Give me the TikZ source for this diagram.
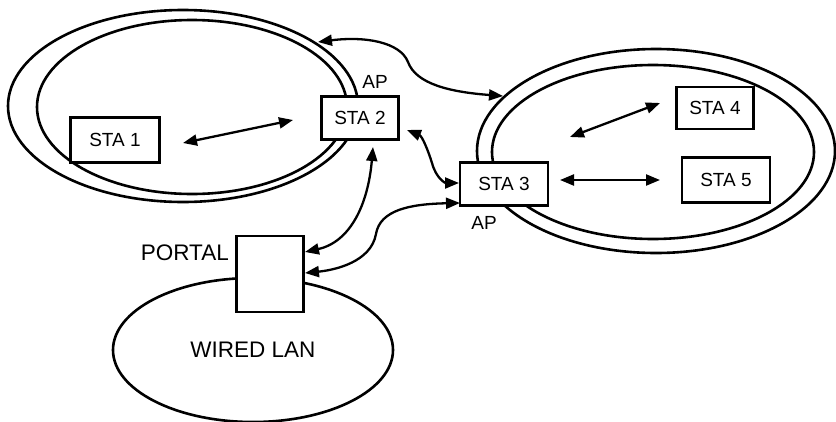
\documentclass[tikz,border=0pt]{standalone}
\usepackage{fontspec}
\setmainfont{Liberation Sans}
\usetikzlibrary{arrows.meta,shapes.geometric}
\begin{document}
\begin{tikzpicture}[x=1pt,y=-1pt,
  ell/.style={draw,ellipse,line width=2.6pt,inner sep=0pt},
  stabox/.style={draw,fill=white,line width=2.6pt,inner sep=0pt,font=\fontsize{19}{20}\selectfont},
  lbl/.style={inner sep=0pt,font=\fontsize{19}{20}\selectfont},
  biglbl/.style={inner sep=0pt,font=\fontsize{22.5}{24}\selectfont},
  conn/.style={line width=2.3pt,{Triangle[length=14pt,width=11pt]}-{Triangle[length=14pt,width=11pt]}}]
\useasboundingbox (0,0) rectangle (836,421);
% ellipses
\node[ell,minimum width=350pt,minimum height=192pt] (lout) at (183,106) {};
\node[ell,minimum width=310pt,minimum height=174pt] (lin) at (192,107) {};
\node[ell,minimum width=358pt,minimum height=204pt] (rout) at (656,151) {};
\node[ell,minimum width=322pt,minimum height=174pt] (rin) at (653,152) {};
\node[ell,minimum width=280pt,minimum height=144pt,biglbl] (lan) at (253,350) {WIRED LAN};
% boxes
\node[stabox,minimum width=89pt,minimum height=45pt] (sta1) at (115,140) {STA 1};
\node[stabox,minimum width=77pt,minimum height=43pt] (sta2) at (360,118) {STA 2};
\node[stabox,minimum width=88pt,minimum height=43pt] (sta3) at (504,184) {STA 3};
\node[stabox,minimum width=77pt,minimum height=42pt] (sta4) at (715,108) {STA 4};
\node[stabox,minimum width=88pt,minimum height=45pt] (sta5) at (726,180) {STA 5};
\node[stabox,minimum width=67pt,minimum height=76pt] (portal) at (270,274) {};
% labels
\node[lbl] (ap1) at (375,82) {AP};
\node[lbl] (ap2) at (484,223) {AP};
\node[biglbl,anchor=east] (portallbl) at (229,253) {PORTAL};
% connector end points
\coordinate (c1a) at (183,143);
\coordinate (c1b) at (293,120);
\coordinate (c2a) at (570,137);
\coordinate (c2b) at (660,103);
\coordinate (c3a) at (560,180);
\coordinate (c3b) at (660,180);
\coordinate (t1) at (318,42);
\coordinate (t2) at (503,96);
\coordinate (s2r) at (407,130);
\coordinate (s3l) at (459,183);
\coordinate (s2b) at (373,147);
\coordinate (s3b) at (460,203);
\coordinate (p1) at (305,252);
\coordinate (p2) at (305,273);
% connectors
\draw[conn] (c1a) -- (c1b);
\draw[conn] (c2a) -- (c2b);
\draw[conn] (c3a) -- (c3b);
\draw[conn] (t1) .. controls (365,36) and (400,42) .. (408,62) .. controls (416,84) and (450,92) .. (t2);
\draw[conn] (s2r) .. controls (422,136) and (428,150) .. (432,163) .. controls (436,178) and (445,183) .. (s3l);
\draw[conn] (s2b) .. controls (368,205) and (350,242) .. (p1);
\draw[conn] (s3b) .. controls (410,204) and (380,210) .. (376,234) .. controls (371,262) and (335,270) .. (p2);
\end{tikzpicture}
\end{document}
